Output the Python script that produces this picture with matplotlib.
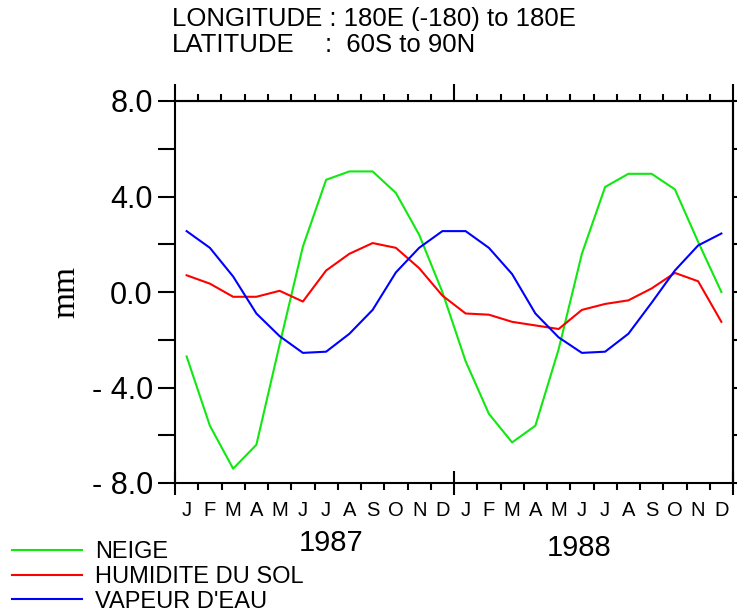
import matplotlib
matplotlib.use("Agg")
import matplotlib.pyplot as plt
import numpy as np

plt.rcParams['font.family'] = ['Liberation Sans', 'DejaVu Sans']

# monthly anomalies (mm), Jan 1987 .. Dec 1988
months = ["J", "F", "M", "A", "M", "J", "J", "A", "S", "O", "N", "D"] * 2
years = ["1987", "1988"]
neige = [-2.7, -5.6, -7.4, -6.4, -2.2, 1.9, 4.7, 5.05, 5.05, 4.15, 2.4, 0.0,
         -2.9, -5.1, -6.3, -5.6, -2.4, 1.6, 4.4, 4.95, 4.95, 4.3, 2.1, 0.0]
humidite = [0.7, 0.35, -0.2, -0.2, 0.05, -0.4, 0.9, 1.6, 2.05, 1.85, 1.0, -0.15,
            -0.9, -0.95, -1.25, -1.4, -1.55, -0.75, -0.5, -0.35, 0.15, 0.8, 0.45, -1.25]
vapeur = [2.55, 1.85, 0.65, -0.9, -1.85, -2.55, -2.5, -1.75, -0.75, 0.82, 1.85, 2.55,
          2.55, 1.85, 0.75, -0.9, -1.9, -2.55, -2.5, -1.75, -0.45, 0.9, 1.95, 2.45]
yticks = [-8, -4, 0, 4, 8]
ytick_labels = ["- 8.0", "- 4.0", "0.0", "4.0", "8.0"]

W, H = 737, 615
fig = plt.figure(figsize=(W / 100, H / 100), dpi=100)
ax = fig.add_axes([175 / W, 1 - 483 / H, 558 / W, 382 / H])

x = np.arange(len(neige)) + 0.5
l1, = ax.plot(x, neige, color='#10e810', lw=1.5, label="NEIGE")
l2, = ax.plot(x, humidite, color='#ff0000', lw=1.5, label="HUMIDITE DU SOL")
l3, = ax.plot(x, vapeur, color='#0000ff', lw=1.5, label="VAPEUR D'EAU")

ax.set_xlim(0, 24)
ax.set_ylim(-8, 8)
for s in ax.spines.values():
    s.set_linewidth(1.5)

# left axis: long ticks every 2 mm, labels every 4
ax.set_yticks(yticks)
ax.set_yticklabels(ytick_labels)
ax.set_yticks(np.arange(-8, 9, 2), minor=True)
ax.tick_params(axis='y', which='both', direction='out', length=12, width=1.5,
               labelsize=22, pad=4, right=False)

# bottom axis: month boundaries, longer ticks at year boundaries
ax.set_xticks([0, 12, 24])
ax.set_xticks(np.arange(0, 25, 1), minor=True)
ax.tick_params(axis='x', which='major', direction='inout', length=17, width=1.5,
               labelbottom=False)
ax.tick_params(axis='x', which='minor', direction='out', length=5, width=1.5)

# top and right axes carry short ticks only
top = ax.secondary_xaxis('top')
top.set_xticks([0, 12, 24])
top.set_xticks(np.arange(0, 25, 1), minor=True)
top.tick_params(which='major', direction='out', length=12, width=1.5, labeltop=False)
top.tick_params(which='minor', direction='out', length=5, width=1.5)
top.spines['top'].set_linewidth(1.5)

right = ax.secondary_yaxis('right')
right.set_yticks(np.arange(-8, 9, 2))
right.tick_params(direction='out', length=5, width=1.5, labelright=False)
right.spines['right'].set_linewidth(1.5)

xt = ax.get_xaxis_transform()
for i, m in enumerate(months):
    ax.text(i + 0.5, -0.071, m, transform=xt, ha='center', va='center', fontsize=14.5)
ax.text(6.7, -0.158, years[0], transform=xt, ha='center', va='center', fontsize=21)
ax.text(17.4, -0.17, years[1], transform=xt, ha='center', va='center', fontsize=21)

fig.text(66 / W, 1 - 292 / H, "mm", rotation=90, ha='center', va='center',
         fontsize=24, family='Liberation Serif')

fig.text(172 / W, 1 - 19 / H, "LONGITUDE : 180E (-180) to 180E", ha='left',
         va='center', fontsize=18.5)
fig.text(172 / W, 1 - 45 / H, "LATITUDE", ha='left', va='center', fontsize=18.5)
fig.text(325 / W, 1 - 45 / H, ":  60S to 90N", ha='left', va='center', fontsize=18.5)

fig.legend(handles=[l1, l2, l3], loc='upper left', bbox_to_anchor=(12 / W, 1 - 541 / H),
           frameon=False, fontsize=17, handlelength=2.95, handletextpad=0.55,
           labelspacing=0.12, borderpad=0, borderaxespad=0)

fig.savefig("out.png", dpi=100)
